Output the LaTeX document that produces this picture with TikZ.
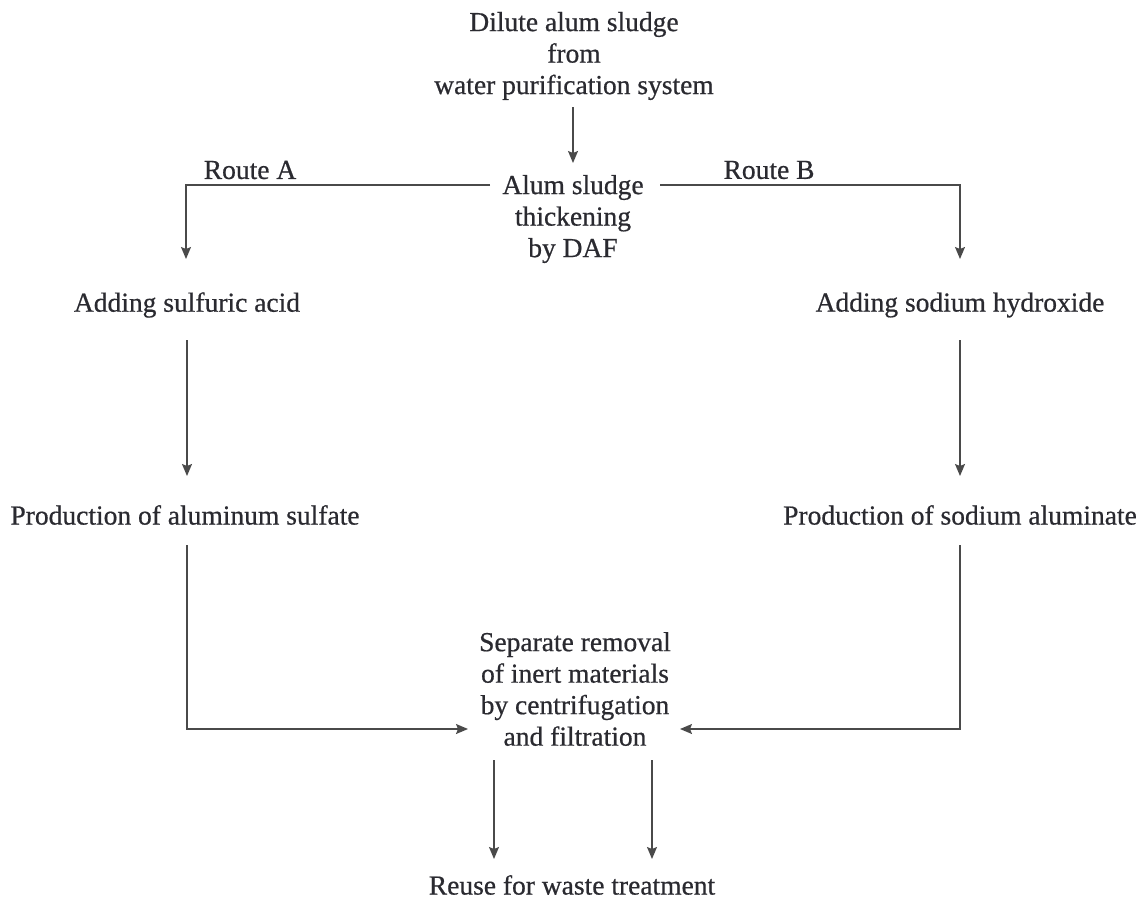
\documentclass[tikz,border=0pt]{standalone}
\usepackage{fontspec}
\setmainfont[FakeBold=0.6]{Liberation Serif}
\usetikzlibrary{arrows.meta}
\definecolor{txt}{HTML}{2A2A30}
\definecolor{ln}{HTML}{4A4A4A}
\tikzset{
  lbl/.style={text=txt, font=\fontsize{27.5}{31.5}\selectfont, align=center, inner sep=0pt},
  arr/.style={draw=ln, line width=1.3pt, -{Stealth[length=12pt,width=10pt,inset=2pt]}},
  ln/.style={draw=ln, line width=1.3pt}
}
\begin{document}
\begin{tikzpicture}[x=1pt,y=-1pt]
\useasboundingbox (0,0) rectangle (1148,899);
\node[lbl] (dilute) at (574,56) {Dilute alum sludge\\from\\water purification system};
\node[lbl] (thick) at (573,219) {Alum sludge\\thickening\\by DAF};
\node[lbl] (routeA) at (250,170) {Route A};
\node[lbl] (routeB) at (769,170) {Route B};
\node[lbl] (acid) at (187,305) {Adding sulfuric acid};
\node[lbl] (naoh) at (960,305) {Adding sodium hydroxide};
\node[lbl] (sulf) at (185,515) {Production of aluminum sulfate};
\node[lbl] (alum) at (960,515) {Production of sodium aluminate};
\node[lbl] (sep) at (575,689) {Separate removal\\of inert materials\\by centrifugation\\and filtration};
\node[lbl] (reuse) at (572,885) {Reuse for waste treatment};

\coordinate (tl) at (490,185);
\coordinate (tr) at (660,185);
\coordinate (sl) at (468,729);
\coordinate (sr) at (680,729);
\coordinate (d1) at (494,760);
\coordinate (d2) at (652,760);

\draw[arr] (573,107) -- (573,163);
\draw[arr] (tl) -| (186,259);
\draw[arr] (tr) -| (960,259);
\draw[arr] (187,340) -- (187,476);
\draw[arr] (960,340) -- (960,476);
\draw[arr] (187,545) |- (sl);
\draw[arr] (960,545) |- (sr);
\draw[arr] (d1) -- (494,859);
\draw[arr] (d2) -- (652,859);
\end{tikzpicture}
\end{document}
